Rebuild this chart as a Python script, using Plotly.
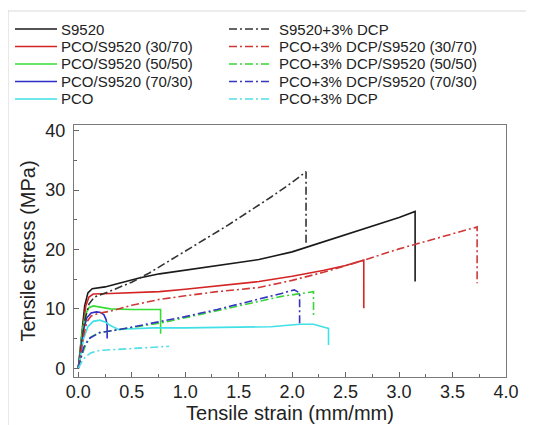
import plotly.graph_objects as go

# ---------------- data ----------------
names = ["S9520", "PCO/S9520 (30/70)", "PCO/S9520 (50/50)", "PCO/S9520 (70/30)", "PCO",
         "S9520+3% DCP", "PCO+3% DCP/S9520 (30/70)", "PCO+3% DCP/S9520 (50/50)",
         "PCO+3% DCP/S9520 (70/30)", "PCO+3% DCP"]

s9520_x = [0, 0.02, 0.04, 0.06, 0.09, 0.13, 0.25, 0.4, 0.57, 0.76, 1.0, 1.3, 1.69, 2.0, 2.14, 2.5, 2.8, 3.0, 3.15, 3.15]
s9520_y = [0, 3, 7, 10.5, 12.7, 13.4, 13.7, 14.4, 15.2, 15.9, 16.5, 17.3, 18.3, 19.6, 20.4, 22.5, 24.3, 25.4, 26.4, 14.6]

r3070_x = [0, 0.02, 0.04, 0.07, 0.1, 0.14, 0.3, 0.76, 1.0, 1.4, 1.69, 2.0, 2.3, 2.5, 2.67, 2.67]
r3070_y = [0, 3, 7, 10.5, 12.0, 12.5, 12.6, 12.9, 13.3, 14.0, 14.6, 15.5, 16.5, 17.3, 18.2, 10.1]

r5050_x = [0, 0.02, 0.04, 0.07, 0.1, 0.14, 0.2, 0.3, 0.5, 0.77, 0.77]
r5050_y = [0, 3, 6.5, 9.2, 10.2, 10.5, 10.3, 10.0, 9.9, 9.9, 5.8]

r7030_x = [0, 0.02, 0.05, 0.08, 0.12, 0.17, 0.21, 0.24, 0.26, 0.27, 0.27]
r7030_y = [0, 3, 6.5, 8.5, 9.3, 9.5, 9.4, 9.0, 8.2, 7.2, 5.0]

pco_x = [0, 0.02, 0.05, 0.09, 0.14, 0.2, 0.25, 0.3, 0.38, 0.45, 0.7, 1.0, 1.5, 1.8, 2.07, 2.2, 2.3, 2.34, 2.34]
pco_y = [0, 2, 5, 7, 7.9, 8.1, 7.8, 7.2, 6.5, 6.6, 6.8, 6.8, 6.9, 7.0, 7.4, 7.4, 6.9, 6.7, 3.9]

s9520d_x = [0, 0.03, 0.06, 0.1, 0.15, 0.3, 0.5, 0.66, 0.8, 1.0, 1.2, 1.4, 1.6, 1.8, 2.0, 2.13, 2.13]
s9520d_y = [0, 4, 8, 10.8, 12.0, 13.0, 14.5, 16.0, 17.5, 19.7, 21.9, 24.1, 26.4, 28.8, 31.3, 33.1, 20.7]

d3070_x = [0, 0.02, 0.05, 0.08, 0.12, 0.2, 0.3, 0.5, 0.76, 1.0, 1.3, 1.69, 2.0, 2.3, 2.6, 3.0, 3.3, 3.5, 3.73, 3.73]
d3070_y = [0, 2.5, 5.5, 7.8, 8.8, 9.3, 9.6, 10.6, 11.6, 12.2, 12.9, 13.6, 14.8, 16.2, 17.8, 20.1, 21.6, 22.6, 23.8, 14.3]

d5050_x = [0, 0.03, 0.07, 0.12, 0.2, 0.4, 0.76, 1.0, 1.3, 1.6, 1.9, 2.2, 2.2]
d5050_y = [0, 2, 4, 5.3, 6.0, 6.6, 7.6, 8.5, 9.7, 10.9, 12.1, 12.9, 8.9]

d7030_x = [0, 0.02, 0.05, 0.1, 0.2, 0.38, 0.76, 1.0, 1.3, 1.6, 1.9, 2.02, 2.07, 2.07]
d7030_y = [0, 1.5, 3.5, 5.0, 6.0, 6.5, 7.8, 8.7, 9.9, 11.2, 12.6, 13.2, 12.7, 7.6]

pcod_x = [0, 0.03, 0.07, 0.12, 0.2, 0.3, 0.5, 0.7, 0.85]
pcod_y = [0, 1.0, 2.0, 2.6, 3.0, 3.1, 3.3, 3.6, 3.7]

xs = [s9520_x, r3070_x, r5050_x, r7030_x, pco_x, s9520d_x, d3070_x, d5050_x, d7030_x, pcod_x]
ys = [s9520_y, r3070_y, r5050_y, r7030_y, pco_y, s9520d_y, d3070_y, d5050_y, d7030_y, pcod_y]

x_ticks = [0.0, 0.5, 1.0, 1.5, 2.0, 2.5, 3.0, 3.5, 4.0]
y_ticks = [0, 10, 20, 30, 40]

# ---------------- styles ----------------
colors = ["#1a1a1a", "#d42424", "#35dd35", "#2e2ec8", "#3fe0e6",
          "#333333", "#d03838", "#3ad43a", "#3535c0", "#55dde6"]
DASHDOT = "8px,3px,2px,3px"
dashes = ["solid"] * 5 + [DASHDOT] * 5

W, H = 534, 425
OFF = 8  # page body margin: page pixel = figure pixel + OFF
# target page-pixel positions of the plot area
PL, PR, PT, PB = 74, 506, 125, 377
L, R, T, B = PL - OFF, PR - OFF, PT - OFF, PB - OFF
FONT = "Liberation Sans, Arial, sans-serif"

def px2paper_x(px):  # px given in page pixels
    return (px - OFF - L) / (R - L)

def px2paper_y(py):
    return (B - (py - OFF)) / (B - T)

fig = go.Figure()
for i in range(len(names)):
    fig.add_trace(go.Scatter(x=xs[i], y=ys[i], mode="lines", name=names[i],
                             line=dict(color=colors[i], width=1.6, dash=dashes[i]),
                             showlegend=False))

# manual two-column legend
row_y = [29, 46.5, 64, 81.5, 99]
shapes = []
annotations = []
for i in range(len(names)):
    col = i // 5
    row = i % 5
    x0, x1, tx = (15, 57, 59) if col == 0 else (229, 272, 277)
    yp = px2paper_y(row_y[row])
    shapes.append(dict(type="line", xref="paper", yref="paper",
                       x0=px2paper_x(x0), x1=px2paper_x(x1), y0=yp, y1=yp,
                       line=dict(color=colors[i], width=1.6, dash=dashes[i])))
    annotations.append(dict(text=names[i], xref="paper", yref="paper",
                            x=px2paper_x(tx), y=yp, xanchor="left", yanchor="middle",
                            showarrow=False, font=dict(family=FONT, size=15, color="#222")))

# light frame lines of the figure panel
shapes.append(dict(type="line", xref="paper", yref="paper",
                   x0=px2paper_x(8), x1=px2paper_x(542), y0=px2paper_y(11), y1=px2paper_y(11),
                   line=dict(color="#d9d9d9", width=1.2)))
shapes.append(dict(type="line", xref="paper", yref="paper",
                   x0=px2paper_x(8), x1=px2paper_x(8), y0=px2paper_y(11), y1=px2paper_y(433),
                   line=dict(color="#d9d9d9", width=1.2)))

axis_common = dict(showgrid=False, zeroline=False, showline=True, linecolor="#7a7a7a",
                   linewidth=1.3, mirror=True, ticks="inside", ticklen=5, tickwidth=1.2,
                   tickcolor="#666", automargin=False,
                   tickfont=dict(family=FONT, size=18, color="#222"))

fig.update_layout(
    width=W, height=H,
    template="none",
    paper_bgcolor="white", plot_bgcolor="white",
    margin=dict(l=L, r=W - R, t=T, b=H - B, pad=0),
    font=dict(family=FONT, color="#222"),
    shapes=shapes, annotations=annotations,
    showlegend=False,
    xaxis=dict(range=[-0.04, 4.0], tickvals=x_ticks, ticktext=[f"{v:.1f}" for v in x_ticks],
               minor=dict(dtick=0.25, tick0=0, ticks="inside", ticklen=2.5, tickcolor="#666"),
               ticklabelstandoff=-2,
               title=dict(text="Tensile strain (mm/mm)", font=dict(family=FONT, size=20, color="#222"),
                          standoff=3),
               **axis_common),
    yaxis=dict(range=[-1.47, 40.96], tickvals=y_ticks, ticktext=[str(v) for v in y_ticks],
               minor=dict(dtick=5, tick0=0, ticks="inside", ticklen=2.5, tickcolor="#666"),
               ticklabelstandoff=4,
               title=dict(text="Tensile stress (MPa)", font=dict(family=FONT, size=20, color="#222"),
                          standoff=4),
               **axis_common),
)

fig.write_html("out.html")
